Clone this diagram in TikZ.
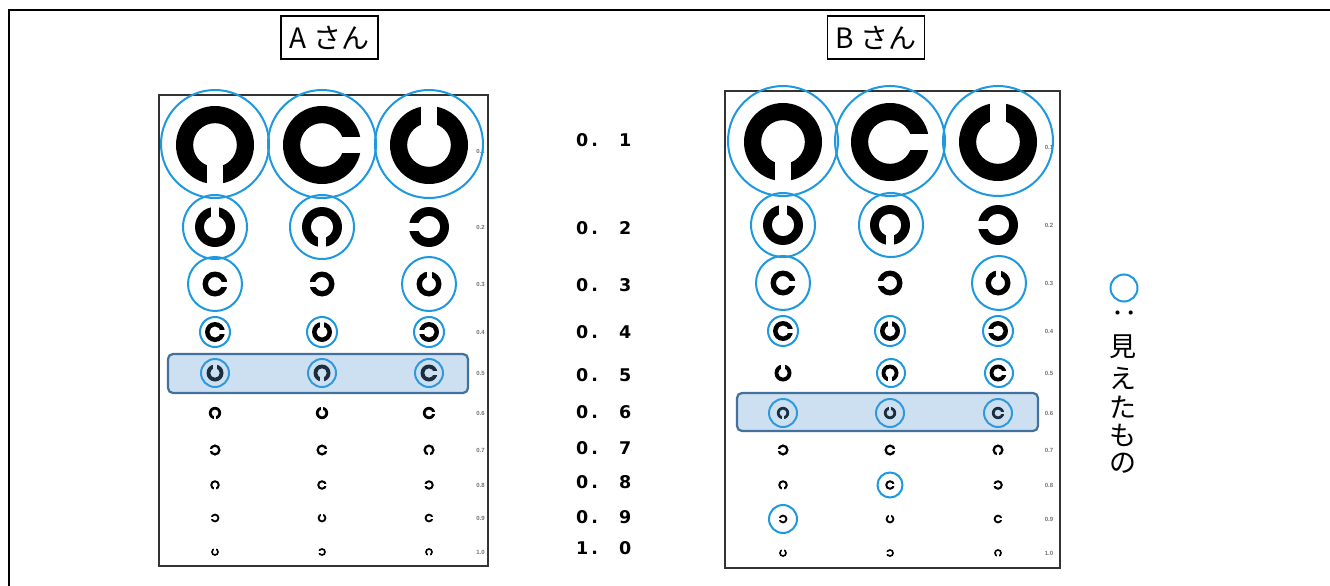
\documentclass[tikz,border=0pt]{standalone}
\usepackage{fontspec}
\usepackage{graphicx}
\newfontfamily\jpf{Noto Sans CJK JP}
\newfontfamily\numf{DejaVu Sans}
\newfontfamily\smf{Liberation Sans}
\definecolor{ringblue}{RGB}{30,152,222}
\definecolor{hlfill}{RGB}{91,155,213}
\definecolor{hldraw}{RGB}{65,113,156}
% gap of a Landolt ring: r right, l left, u up, d down (image coords, y downwards)
\newcommand\gapr[3]{\fill[white] (#1,{#2-0.2*#3}) rectangle ({#1+1.1*#3},{#2+0.2*#3});}
\newcommand\gapl[3]{\fill[white] ({#1-1.1*#3},{#2-0.2*#3}) rectangle (#1,{#2+0.2*#3});}
\newcommand\gapu[3]{\fill[white] ({#1-0.2*#3},{#2-1.1*#3}) rectangle ({#1+0.2*#3},#2);}
\newcommand\gapd[3]{\fill[white] ({#1-0.2*#3},#2) rectangle ({#1+0.2*#3},{#2+1.1*#3});}
\newcommand\lring[4]{\fill[black,even odd rule] (#1,#2) circle (#3) (#1,#2) circle ({0.56*#3});\csname gap#4\endcsname{#1}{#2}{#3}}
\begin{document}
\begin{tikzpicture}[x=1pt,y=-1pt,
  seen/.style={draw=ringblue,line width=2pt},
  chartframe/.style={draw=black!80,line width=1.4pt},
  hl/.style={fill=hlfill,fill opacity=0.3,draw=hldraw,line width=2.2pt,rounded corners=5pt},
  titlebox/.style={draw,line width=1.6pt,minimum width=97pt,minimum height=43pt,inner sep=0pt,font=\jpf\fontsize{28}{30}\selectfont},
  lab/.style={inner sep=0pt,text=black!55,font=\smf\bfseries\fontsize{6}{7}\selectfont},
  acuity/.style={anchor=west,inner sep=0pt,font=\numf\bfseries\fontsize{17.5}{19}\selectfont},
  legch/.style={inner sep=0pt,font=\jpf\fontsize{27}{29}\selectfont}]
\useasboundingbox (0,0) rectangle (1330,586);
\clip (0,0) rectangle (1330,586);
\fill[white] (0,0) rectangle (1330,586);
% outer frame
\draw[line width=2.5pt] (9,10) rectangle (1345,600);
% titles
\node[titlebox] (ta) at (329.5,37.5) {A さん};
\node[titlebox] (tb) at (876,37.5) {B さん};
% chart frames
\draw[chartframe] (159,95) rectangle (488,566);
\draw[chartframe] (725,91) rectangle (1060,568);
% rings
\foreach \yA/\yB/\R/\a/\b/\c in {145/142/39/d/r/u, 227/225/20/u/d/l, 284/283/12.5/r/l/u,
   332/331/10/r/u/l, 373/373/8.5/u/d/r, 413/413/6.2/d/u/r, 450/450/5.6/l/r/d,
   485/485/4.8/d/r/l, 518/519/4.4/l/u/r, 552/553/3.9/u/l/d}{
  \lring{215}{\yA}{\R}{\a}\lring{322}{\yA}{\R}{\b}\lring{429}{\yA}{\R}{\c}
  \lring{783}{\yB}{\R}{\a}\lring{890}{\yB}{\R}{\b}\lring{998}{\yB}{\R}{\c}
}
% small row labels
\foreach \yA/\yB/\t [count=\i] in {151/147/0.1, 227/225/0.2, 284/283/0.3, 332/331/0.4,
   373/373/0.5, 413/413/0.6, 450/450/0.7, 485/485/0.8, 518/519/0.9, 552/553/1.0}{
  \node[lab] (la\i) at (480.5,\yA) {\t};
  \node[lab] (lb\i) at (1049,\yB) {\t};
}
% circles: seen by A
\foreach \x in {215,322,429}{\draw[seen] (\x,144) circle (54);}
\draw[seen] (215,227) circle (32);
\draw[seen] (322,227) circle (32);
\draw[seen] (215,284) circle (27);
\draw[seen] (429,284) circle (27);
\foreach \x in {215,322,429}{\draw[seen] (\x,332) circle (15);}
\foreach \x in {215,322,429}{\draw[seen] (\x,373) circle (14);}
% circles: seen by B
\foreach \x in {783,890,998}{\draw[seen] (\x,141) circle (55);}
\draw[seen] (783,225) circle (32);
\draw[seen] (891,225) circle (32);
\draw[seen] (783,283) circle (27);
\draw[seen] (999,283) circle (27);
\foreach \x in {783,890,998}{\draw[seen] (\x,331) circle (15);}
\draw[seen] (891,373) circle (14);
\draw[seen] (999,373) circle (14);
\foreach \x in {783,890,998}{\draw[seen] (\x,413) circle (14);}
\draw[seen] (890,485) circle (12.5);
\draw[seen] (783,519) circle (14);
% highlighted rows
\draw[hl] (168,354) rectangle (468,393);
\draw[hl] (737,393) rectangle (1038,431);
% acuity column
\foreach \y/\p/\q [count=\i] in {140/0/1, 228/0/2, 285/0/3, 332/0/4, 375/0/5,
   412/0/6, 448/0/7, 482/0/8, 517/0/9, 548/1/0}{
  \node[acuity] (ac\i) at (576,\y) {\p\hspace{3pt}.\hspace{21pt}\q};
}
% legend
\draw[seen] (1124,288) circle (13.5);
\node[legch] (lcolon) at (1124,313) {\rotatebox{-90}{：}};
\node[legch] (l1) at (1123,347) {見};
\node[legch] (l2) at (1123,378) {え};
\node[legch] (l3) at (1123,407) {た};
\node[legch] (l4) at (1123,435) {も};
\node[legch] (l5) at (1123,463) {の};
\end{tikzpicture}
\end{document}
